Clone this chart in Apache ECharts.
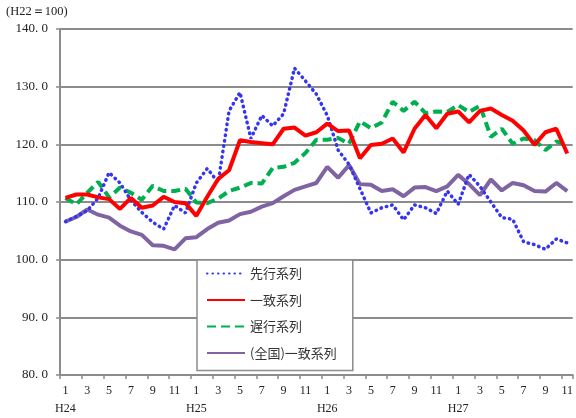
<!DOCTYPE html>
<html>
<head>
<meta charset="utf-8">
<script src="https://cdn.jsdelivr.net/npm/echarts@6/dist/echarts.min.js"></script>
<style>
html,body{margin:0;padding:0;background:#fff;}
#chart{width:576px;height:418px;}
</style>
</head>
<body>
<div id="chart"></div>
<script>
// ---- data ----
const unitLabel = '(H22＝100)';
const years = ['H24', 'H25', 'H26', 'H27'];
const months = [
  1,2,3,4,5,6,7,8,9,10,11,12,
  1,2,3,4,5,6,7,8,9,10,11,12,
  1,2,3,4,5,6,7,8,9,10,11,12,
  1,2,3,4,5,6,7,8,9,10,11
];
const seriesNames = ['先行系列', '一致系列', '遅行系列', '(全国)一致系列'];
const leading = [
  106.6,107.5,108.5,110.7,115.1,113.3,110.3,108.2,106.5,105.3,109.4,108.1,
  113.3,115.8,113.4,125.8,129.0,121.0,125.0,123.2,125.3,133.2,131.0,128.7,
  125.0,119.0,116.5,112.3,108.1,109.0,109.5,106.9,109.5,109.0,108.0,111.9,
  109.6,114.8,112.7,110.0,107.3,107.0,103.1,102.6,101.8,103.6,102.9
];
const coincident = [
  110.7,111.3,111.3,110.8,110.5,108.8,110.7,109.0,109.4,110.9,110.0,109.8,
  107.6,110.9,114.0,115.5,120.7,120.4,120.2,120.0,122.7,122.9,121.5,122.1,
  123.6,122.3,122.4,117.6,119.9,120.1,121.0,118.6,122.7,125.1,122.8,125.3,
  125.7,123.8,125.8,126.2,125.1,124.1,122.4,119.9,122.1,122.7,118.4
];
const lagging = [
  110.7,109.6,111.6,113.5,110.8,112.5,111.6,110.4,112.8,111.9,111.9,112.3,
  109.9,109.8,110.6,111.9,112.5,113.3,113.2,115.9,116.1,116.8,118.5,120.8,
  120.8,121.1,120.1,124.0,122.8,123.8,127.4,125.8,127.4,125.4,125.7,125.6,
  126.8,125.6,126.7,121.3,122.7,120.1,121.0,120.7,119.0,120.5,119.9
];
const national = [
  106.6,107.4,108.7,107.8,107.3,105.9,104.9,104.3,102.5,102.4,101.8,103.7,
  103.9,105.3,106.4,106.8,107.9,108.3,109.2,109.8,111.0,112.1,112.7,113.3,
  116.1,114.2,116.4,113.1,113.0,111.9,112.2,111.0,112.5,112.6,111.9,112.7,
  114.7,113.1,111.2,113.9,112.0,113.3,112.9,111.9,111.8,113.3,111.9
];
const yMin = 80, yMax = 140, yStep = 10;

// ---- build categories ----
let yi = -1;
const categories = months.map(function (m) {
  if (m === 1) yi++;
  return years[yi] + '/' + m;
});

const serif = '"Liberation Serif","DejaVu Serif",serif';
const cjk = '"Noto Sans CJK JP","Noto Sans CJK SC",sans-serif';
const gray = '#8c8c8c';

const chart = echarts.init(document.getElementById('chart'), null, {renderer: 'canvas'});
chart.setOption({
  animation: false,
  backgroundColor: '#fff',
  title: {
    text: unitLabel,
    left: 1, top: 0,
    textStyle: {fontFamily: serif, fontSize: 12.5, fontWeight: 'normal', color: '#222'}
  },
  grid: {left: 60, right: 2, top: 29, bottom: 39, containLabel: false},
  legend: {
    orient: 'vertical',
    left: 197, top: 260,
    padding: [7, 16, 11, 9],
    itemGap: 13.5,
    itemWidth: 38,
    itemHeight: 14,
    backgroundColor: '#fff',
    borderColor: gray,
    borderWidth: 1.5,
    itemStyle: {opacity: 0},
    textStyle: {fontFamily: cjk, fontSize: 13, color: '#333'},
    data: seriesNames
  },
  xAxis: {
    type: 'category',
    data: categories,
    boundaryGap: true,
    axisLine: {lineStyle: {color: gray, width: 2}},
    axisTick: {show: true, interval: 1, length: 4, lineStyle: {color: gray, width: 1.5}},
    axisLabel: {
      interval: 1,
      margin: 7,
      fontFamily: serif,
      fontSize: 12,
      color: '#222',
      lineHeight: 18,
      formatter: function (v) {
        const parts = v.split('/');
        return parts[1] === '1' ? parts[1] + '\n' + parts[0] : parts[1];
      }
    },
    splitLine: {show: false}
  },
  yAxis: {
    type: 'value',
    min: yMin, max: yMax, interval: yStep,
    axisLine: {show: true, lineStyle: {color: gray, width: 2}},
    axisTick: {show: true, length: 4, lineStyle: {color: gray, width: 1.5}},
    axisLabel: {
      margin: 12,
      fontFamily: serif,
      fontSize: 13,
      color: '#222',
      formatter: function (v) { return v.toFixed(1).replace('.', '. '); }
    },
    splitLine: {show: true, lineStyle: {color: gray, width: 2}}
  },
  series: [
    {
      name: seriesNames[0], type: 'line', data: leading,
      symbol: 'none', showSymbol: false, z: 3,
      itemStyle: {color: '#3535f0'},
      lineStyle: {color: '#3535f0', width: 3.5, type: [0.5, 5], cap: 'round'}
    },
    {
      name: seriesNames[1], type: 'line', data: coincident,
      symbol: 'none', showSymbol: false, z: 4,
      itemStyle: {color: '#ff0000'},
      lineStyle: {color: '#ff0000', width: 4}
    },
    {
      name: seriesNames[2], type: 'line', data: lagging,
      symbol: 'none', showSymbol: false, z: 2,
      itemStyle: {color: '#00b050'},
      lineStyle: {color: '#00b050', width: 4, type: [9, 5]}
    },
    {
      name: seriesNames[3], type: 'line', data: national,
      symbol: 'none', showSymbol: false, z: 2,
      itemStyle: {color: '#8064a2'},
      lineStyle: {color: '#8064a2', width: 4}
    }
  ]
});
</script>
</body>
</html>
